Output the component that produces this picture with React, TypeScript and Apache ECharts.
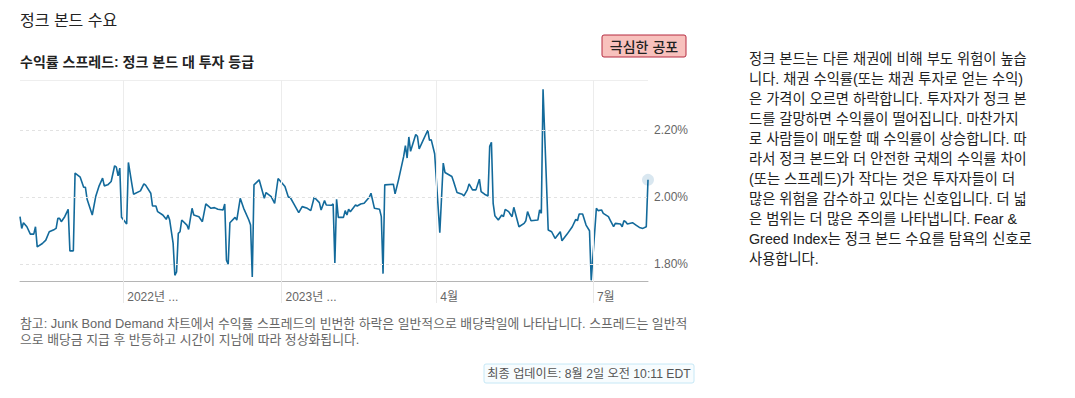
import React, { useEffect, useRef } from "react";
import * as echarts from "echarts";

// ---- data ----
const dates = [
  "2022-08-02","2022-08-03","2022-08-04","2022-08-06","2022-08-08","2022-08-10","2022-08-11","2022-08-12","2022-08-15","2022-08-17",
  "2022-08-19","2022-08-22","2022-08-23","2022-08-24","2022-08-25","2022-08-26","2022-08-28","2022-08-30","2022-08-31","2022-09-02",
  "2022-09-03","2022-09-06","2022-09-08","2022-09-09","2022-09-10","2022-09-13","2022-09-15","2022-09-17","2022-09-19","2022-09-20",
  "2022-09-22","2022-09-24","2022-09-26","2022-09-27","2022-09-28","2022-09-29","2022-09-30","2022-10-03","2022-10-04","2022-10-06",
  "2022-10-07","2022-10-11","2022-10-13","2022-10-14","2022-10-17","2022-10-18","2022-10-20","2022-10-21","2022-10-24","2022-10-26",
  "2022-10-27","2022-10-28","2022-10-30","2022-10-31","2022-11-01","2022-11-02","2022-11-03","2022-11-04","2022-11-07","2022-11-08",
  "2022-11-10","2022-11-11","2022-11-14","2022-11-16","2022-11-18","2022-11-21","2022-11-23","2022-11-25","2022-11-28","2022-11-29",
  "2022-11-30","2022-12-01","2022-12-02","2022-12-05","2022-12-06","2022-12-08","2022-12-10","2022-12-13","2022-12-14","2022-12-15",
  "2022-12-16","2022-12-19","2022-12-22","2022-12-23","2022-12-26","2022-12-28","2022-12-30","2023-01-01","2023-01-03","2023-01-05",
  "2023-01-06","2023-01-08","2023-01-11","2023-01-13","2023-01-16","2023-01-18","2023-01-20","2023-01-23","2023-01-24","2023-01-26",
  "2023-01-27","2023-01-30","2023-01-31","2023-02-01","2023-02-02","2023-02-03","2023-02-06","2023-02-07","2023-02-08","2023-02-09",
  "2023-02-10","2023-02-13","2023-02-14","2023-02-16","2023-02-18","2023-02-21","2023-02-22","2023-02-24","2023-02-27","2023-02-28",
  "2023-03-01","2023-03-02","2023-03-07","2023-03-08","2023-03-10","2023-03-13","2023-03-14","2023-03-15","2023-03-16","2023-03-17",
  "2023-03-20","2023-03-21","2023-03-22","2023-03-24","2023-03-27","2023-03-28","2023-03-29","2023-03-31","2023-04-03","2023-04-05",
  "2023-04-06","2023-04-10","2023-04-11","2023-04-13","2023-04-16","2023-04-17","2023-04-19","2023-04-20","2023-04-22","2023-04-24",
  "2023-04-26","2023-04-27","2023-04-29","2023-05-01","2023-05-02","2023-05-03","2023-05-04","2023-05-05","2023-05-07","2023-05-09",
  "2023-05-10","2023-05-11","2023-05-13","2023-05-15","2023-05-16","2023-05-19","2023-05-22","2023-05-23","2023-05-24","2023-05-26",
  "2023-05-30","2023-05-31","2023-06-01","2023-06-02","2023-06-05","2023-06-07","2023-06-09","2023-06-12","2023-06-13","2023-06-16",
  "2023-06-19","2023-06-21","2023-06-22","2023-06-23","2023-06-25","2023-06-27","2023-06-29","2023-06-30","2023-07-03","2023-07-04",
  "2023-07-06","2023-07-07","2023-07-10","2023-07-11","2023-07-13","2023-07-14","2023-07-17","2023-07-18","2023-07-19","2023-07-20",
  "2023-07-21","2023-07-24","2023-07-26","2023-07-28","2023-07-30","2023-08-01","2023-08-02",
];

const spread = [
  1.942,1.907,1.924,1.912,1.890,1.890,1.912,1.852,1.862,1.872,
  1.897,1.904,1.907,1.937,1.937,1.927,1.942,1.964,1.840,1.840,
  2.072,2.060,2.030,2.030,1.994,1.947,2.002,2.034,2.057,2.034,
  2.037,2.047,2.094,2.090,2.064,2.087,1.940,1.920,2.104,2.040,
  2.009,2.019,2.040,2.036,2.012,1.974,1.974,1.957,1.947,1.934,
  1.947,1.932,1.862,1.767,1.777,1.892,1.897,1.932,1.917,1.904,
  1.967,1.947,1.942,1.927,1.980,1.967,1.969,1.964,1.962,1.980,
  1.812,1.800,1.924,1.940,1.932,1.997,1.967,1.932,1.917,1.762,
  2.037,2.052,1.997,2.014,2.002,1.982,2.056,2.044,2.032,2.000,
  2.000,1.982,1.954,1.972,1.967,1.960,2.000,1.984,1.962,1.990,
  1.977,1.976,1.980,1.804,1.994,1.940,1.940,1.960,1.947,1.964,
  1.957,1.977,1.974,1.980,1.982,2.000,2.012,1.967,1.964,1.942,
  1.772,2.037,2.039,2.010,2.052,2.122,2.154,2.117,2.180,2.137,
  2.187,2.182,2.144,2.167,2.200,2.170,2.172,2.130,1.894,2.102,
  2.074,2.062,2.047,2.014,2.009,2.004,2.022,2.040,2.022,2.022,
  2.054,2.017,2.009,2.004,2.152,2.164,1.982,1.945,1.932,1.947,
  1.942,1.964,1.957,1.942,1.970,1.912,1.922,1.930,1.957,1.930,
  1.932,1.962,1.952,2.322,1.902,1.897,1.877,1.897,1.870,1.890,
  1.912,1.934,1.930,1.950,1.950,1.917,1.900,1.752,1.967,1.960,
  1.962,1.952,1.942,1.932,1.912,1.922,1.920,1.912,1.930,1.927,
  1.920,1.924,1.917,1.910,1.907,1.912,2.052,
];

const yRange = [1.75, 2.35];
const yTicks = [1.8, 2.0, 2.2];
const xRange = ["2022-08-02", "2023-08-02"];
const xTickDates = ["2022-10-01", "2023-01-01", "2023-04-01", "2023-07-01"];
const xTickLabels = ["2022년 ...", "2023년 ...", "4월", "7월"];

const titleText = "정크 본드 수요";
const subtitleText = "수익률 스프레드: 정크 본드 대 투자 등급";
const badgeText = "극심한 공포";
const descLines = [
  "정크 본드는 다른 채권에 비해 부도 위험이 높습",
  "니다. 채권 수익률(또는 채권 투자로 얻는 수익)",
  "은 가격이 오르면 하락합니다. 투자자가 정크 본",
  "드를 갈망하면 수익률이 떨어집니다. 마찬가지",
  "로 사람들이 매도할 때 수익률이 상승합니다. 따",
  "라서 정크 본드와 더 안전한 국채의 수익률 차이",
  "(또는 스프레드)가 작다는 것은 투자자들이 더",
  "많은 위험을 감수하고 있다는 신호입니다. 더 넓",
  "은 범위는 더 많은 주의를 나타냅니다. Fear &",
  "Greed Index는 정크 본드 수요를 탐욕의 신호로",
  "사용합니다.",
];
const noteLines = [
  "참고: Junk Bond Demand 차트에서 수익률 스프레드의 빈번한 하락은 일반적으로 배당락일에 나타납니다. 스프레드는 일반적",
  "으로 배당금 지급 후 반등하고 시간이 지남에 따라 정상화됩니다.",
];
const updateText = "최종 업데이트: 8월 2일 오전 10:11 EDT";

const FONT = '"Liberation Sans", "Noto Sans CJK KR", sans-serif';

function ts(s: string): number {
  const [y, m, d] = s.split("-").map(Number);
  return Date.UTC(y, m - 1, d);
}

export default function App() {
  const ref = useRef<HTMLDivElement>(null);

  useEffect(() => {
    if (!ref.current) return;
    const chart = echarts.init(ref.current, undefined, { renderer: "svg" });
    const xTickTs = xTickDates.map(ts);
    const seriesData = dates.map((d, i) => [ts(d), spread[i]]);
    const last = seriesData[seriesData.length - 1];

    chart.setOption({
      animation: false,
      backgroundColor: "#ffffff",
      grid: { left: 20, top: 80, width: 628, height: 201, containLabel: false },
      xAxis: {
        type: "value",
        min: ts(xRange[0]),
        max: ts(xRange[1]),
        axisLine: { show: true, lineStyle: { color: "#b5b5b5", width: 1 } },
        axisTick: {
          show: true,
          customValues: xTickTs,
          length: 22,
          lineStyle: { color: "#e8e8e8", width: 1 },
        },
        axisLabel: {
          customValues: xTickTs,
          formatter: (v: number) => {
            const i = xTickTs.findIndex((t) => Math.abs(t - v) < 43200000);
            return i >= 0 ? xTickLabels[i] : "";
          },
          align: "left",
          padding: [0, 0, 0, 4],
          margin: 10,
          color: "#666666",
          fontSize: 12,
          fontFamily: FONT,
        },
        splitLine: { show: false },
      },
      yAxis: {
        type: "value",
        position: "right",
        min: yRange[0],
        max: yRange[1],
        axisLine: { show: false },
        axisTick: { show: false },
        splitLine: { show: false },
        axisLabel: {
          customValues: yTicks,
          formatter: (v: number) => v.toFixed(2) + "%",
          color: "#666666",
          fontSize: 12,
          fontFamily: FONT,
          margin: 6,
        },
      },
      series: [
        {
          type: "scatter",
          z: 1,
          data: [last],
          symbolSize: 12,
          itemStyle: { color: "#cfe1ec" },
          silent: true,
          markLine: {
            silent: true,
            symbol: "none",
            label: { show: false },
            data: [
              ...yTicks.map((v) => ({
                yAxis: v,
                lineStyle: { type: [3, 3], color: "#e2e2e2", width: 1 },
              })),
              {
                yAxis: yRange[1],
                lineStyle: { type: "solid", color: "#eeeeee", width: 1 },
              },
              ...xTickTs.map((t) => ({
                xAxis: t,
                lineStyle: { type: "solid", color: "#ececec", width: 1 },
              })),
            ],
          },
        },
        {
          type: "line",
          z: 3,
          data: seriesData,
          showSymbol: false,
          symbol: "none",
          lineStyle: { color: "#136a9b", width: 1.6 },
          silent: true,
        },
      ],
      graphic: [
        {
          type: "text",
          x: 20,
          y: 20,
          style: { text: titleText, fontSize: 16, fontFamily: FONT, fill: "#222222", verticalAlign: "middle" },
        },
        {
          type: "text",
          x: 20,
          y: 62,
          style: { text: subtitleText, fontSize: 14, fontWeight: 600, fontFamily: FONT, fill: "#222222", verticalAlign: "middle" },
        },
        {
          type: "rect",
          shape: { x: 602, y: 35, width: 84, height: 22, r: 2 },
          style: { fill: "#f8c1bd", stroke: "#b52b40", lineWidth: 1 },
        },
        {
          type: "text",
          x: 644,
          y: 46.5,
          style: { text: badgeText, fontSize: 14, fontWeight: 500, fontFamily: FONT, fill: "#222222", align: "center", verticalAlign: "middle" },
        },
        {
          type: "text",
          x: 749,
          y: 49,
          style: { text: descLines.join("\n"), fontSize: 14.3, lineHeight: 20, fontFamily: FONT, fill: "#222222", verticalAlign: "top" },
        },
        {
          type: "text",
          x: 20,
          y: 315,
          style: { text: noteLines.join("\n"), fontSize: 12.85, lineHeight: 16, fontFamily: FONT, fill: "#666666", verticalAlign: "top" },
        },
        {
          type: "rect",
          shape: { x: 484, y: 364, width: 210, height: 19, r: 2 },
          style: { fill: "#f7fcfe", stroke: "#c6e8f6", lineWidth: 1 },
        },
        {
          type: "text",
          x: 589,
          y: 373.5,
          style: { text: updateText, fontSize: 12.2, fontFamily: FONT, fill: "#555555", align: "center", verticalAlign: "middle" },
        },
      ],
    });

    return () => chart.dispose();
  }, []);

  return (
    <div
      ref={ref}
      style={{ position: "fixed", left: 0, top: 0, width: 1075, height: 398, background: "#fff" }}
    />
  );
}
